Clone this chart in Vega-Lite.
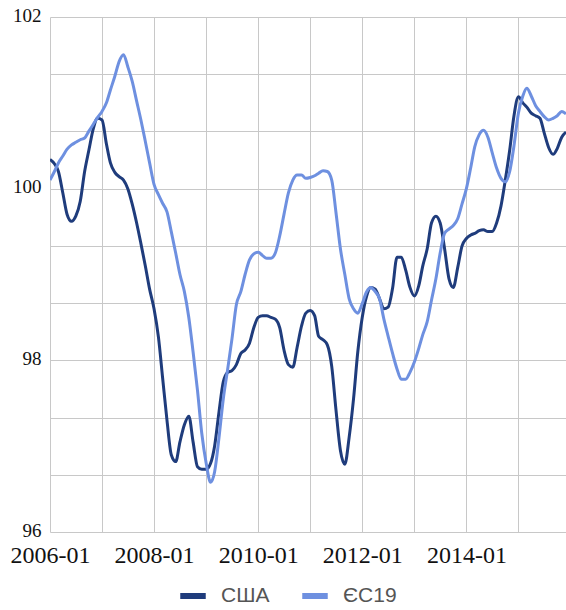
{
  "$schema": "https://vega.github.io/schema/vega-lite/v6.json",
  "autosize": "none",
  "width": 516,
  "height": 515,
  "padding": {"left": 50, "top": 17, "right": 0, "bottom": 78},
  "background": "white",
  "data": {"name": "src"},
  "datasets": {
    "src": [
      {"d":"2006-01-01","s":"США","v":100.34},{"d":"2006-02-01","s":"США","v":100.29},{"d":"2006-03-01","s":"США","v":100.2},{"d":"2006-04-01","s":"США","v":99.95},{"d":"2006-05-01","s":"США","v":99.7},{"d":"2006-06-01","s":"США","v":99.62},{"d":"2006-07-01","s":"США","v":99.68},{"d":"2006-08-01","s":"США","v":99.85},{"d":"2006-09-01","s":"США","v":100.2},{"d":"2006-10-01","s":"США","v":100.45},{"d":"2006-11-01","s":"США","v":100.7},{"d":"2006-12-01","s":"США","v":100.82},
      {"d":"2007-01-01","s":"США","v":100.8},{"d":"2007-02-01","s":"США","v":100.52},{"d":"2007-03-01","s":"США","v":100.3},{"d":"2007-04-01","s":"США","v":100.19},{"d":"2007-05-01","s":"США","v":100.14},{"d":"2007-06-01","s":"США","v":100.1},{"d":"2007-07-01","s":"США","v":100.0},{"d":"2007-08-01","s":"США","v":99.82},{"d":"2007-09-01","s":"США","v":99.6},{"d":"2007-10-01","s":"США","v":99.36},{"d":"2007-11-01","s":"США","v":99.1},{"d":"2007-12-01","s":"США","v":98.83},
      {"d":"2008-01-01","s":"США","v":98.6},{"d":"2008-02-01","s":"США","v":98.27},{"d":"2008-03-01","s":"США","v":97.8},{"d":"2008-04-01","s":"США","v":97.3},{"d":"2008-05-01","s":"США","v":96.9},{"d":"2008-06-01","s":"США","v":96.82},{"d":"2008-07-01","s":"США","v":97.05},{"d":"2008-08-01","s":"США","v":97.25},{"d":"2008-09-01","s":"США","v":97.35},{"d":"2008-10-01","s":"США","v":97.05},{"d":"2008-11-01","s":"США","v":96.76},{"d":"2008-12-01","s":"США","v":96.73},
      {"d":"2009-01-01","s":"США","v":96.73},{"d":"2009-02-01","s":"США","v":96.8},{"d":"2009-03-01","s":"США","v":97.0},{"d":"2009-04-01","s":"США","v":97.4},{"d":"2009-05-01","s":"США","v":97.75},{"d":"2009-06-01","s":"США","v":97.86},{"d":"2009-07-01","s":"США","v":97.88},{"d":"2009-08-01","s":"США","v":97.95},{"d":"2009-09-01","s":"США","v":98.08},{"d":"2009-10-01","s":"США","v":98.12},{"d":"2009-11-01","s":"США","v":98.2},{"d":"2009-12-01","s":"США","v":98.38},
      {"d":"2010-01-01","s":"США","v":98.5},{"d":"2010-02-01","s":"США","v":98.52},{"d":"2010-03-01","s":"США","v":98.52},{"d":"2010-04-01","s":"США","v":98.5},{"d":"2010-05-01","s":"США","v":98.48},{"d":"2010-06-01","s":"США","v":98.38},{"d":"2010-07-01","s":"США","v":98.12},{"d":"2010-08-01","s":"США","v":97.95},{"d":"2010-09-01","s":"США","v":97.92},{"d":"2010-10-01","s":"США","v":98.15},{"d":"2010-11-01","s":"США","v":98.4},{"d":"2010-12-01","s":"США","v":98.55},
      {"d":"2011-01-01","s":"США","v":98.58},{"d":"2011-02-01","s":"США","v":98.52},{"d":"2011-03-01","s":"США","v":98.28},{"d":"2011-04-01","s":"США","v":98.24},{"d":"2011-05-01","s":"США","v":98.18},{"d":"2011-06-01","s":"США","v":97.93},{"d":"2011-07-01","s":"США","v":97.42},{"d":"2011-08-01","s":"США","v":96.95},{"d":"2011-09-01","s":"США","v":96.79},{"d":"2011-10-01","s":"США","v":97.1},{"d":"2011-11-01","s":"США","v":97.55},{"d":"2011-12-01","s":"США","v":98.1},
      {"d":"2012-01-01","s":"США","v":98.5},{"d":"2012-02-01","s":"США","v":98.75},{"d":"2012-03-01","s":"США","v":98.85},{"d":"2012-04-01","s":"США","v":98.83},{"d":"2012-05-01","s":"США","v":98.72},{"d":"2012-06-01","s":"США","v":98.6},{"d":"2012-07-01","s":"США","v":98.62},{"d":"2012-08-01","s":"США","v":98.84},{"d":"2012-09-01","s":"США","v":99.2},{"d":"2012-10-01","s":"США","v":99.2},{"d":"2012-11-01","s":"США","v":99.05},{"d":"2012-12-01","s":"США","v":98.85},
      {"d":"2013-01-01","s":"США","v":98.75},{"d":"2013-02-01","s":"США","v":98.87},{"d":"2013-03-01","s":"США","v":99.1},{"d":"2013-04-01","s":"США","v":99.3},{"d":"2013-05-01","s":"США","v":99.6},{"d":"2013-06-01","s":"США","v":99.68},{"d":"2013-07-01","s":"США","v":99.6},{"d":"2013-08-01","s":"США","v":99.3},{"d":"2013-09-01","s":"США","v":98.95},{"d":"2013-10-01","s":"США","v":98.85},{"d":"2013-11-01","s":"США","v":99.08},{"d":"2013-12-01","s":"США","v":99.33},
      {"d":"2014-01-01","s":"США","v":99.42},{"d":"2014-02-01","s":"США","v":99.46},{"d":"2014-03-01","s":"США","v":99.48},{"d":"2014-04-01","s":"США","v":99.51},{"d":"2014-05-01","s":"США","v":99.52},{"d":"2014-06-01","s":"США","v":99.5},{"d":"2014-07-01","s":"США","v":99.5},{"d":"2014-08-01","s":"США","v":99.6},{"d":"2014-09-01","s":"США","v":99.8},{"d":"2014-10-01","s":"США","v":100.1},{"d":"2014-11-01","s":"США","v":100.45},{"d":"2014-12-01","s":"США","v":100.85},
      {"d":"2015-01-01","s":"США","v":101.07},{"d":"2015-02-01","s":"США","v":101.0},{"d":"2015-03-01","s":"США","v":100.95},{"d":"2015-04-01","s":"США","v":100.88},{"d":"2015-05-01","s":"США","v":100.85},{"d":"2015-06-01","s":"США","v":100.82},{"d":"2015-07-01","s":"США","v":100.65},{"d":"2015-08-01","s":"США","v":100.48},{"d":"2015-09-01","s":"США","v":100.4},{"d":"2015-10-01","s":"США","v":100.47},{"d":"2015-11-01","s":"США","v":100.6},{"d":"2015-12-01","s":"США","v":100.66},
      {"d":"2006-01-01","s":"ЄС19","v":100.1},{"d":"2006-02-01","s":"ЄС19","v":100.2},{"d":"2006-03-01","s":"ЄС19","v":100.3},{"d":"2006-04-01","s":"ЄС19","v":100.38},{"d":"2006-05-01","s":"ЄС19","v":100.46},{"d":"2006-06-01","s":"ЄС19","v":100.51},{"d":"2006-07-01","s":"ЄС19","v":100.54},{"d":"2006-08-01","s":"ЄС19","v":100.57},{"d":"2006-09-01","s":"ЄС19","v":100.59},{"d":"2006-10-01","s":"ЄС19","v":100.67},{"d":"2006-11-01","s":"ЄС19","v":100.75},{"d":"2006-12-01","s":"ЄС19","v":100.83},
      {"d":"2007-01-01","s":"ЄС19","v":100.9},{"d":"2007-02-01","s":"ЄС19","v":101.0},{"d":"2007-03-01","s":"ЄС19","v":101.15},{"d":"2007-04-01","s":"ЄС19","v":101.31},{"d":"2007-05-01","s":"ЄС19","v":101.48},{"d":"2007-06-01","s":"ЄС19","v":101.56},{"d":"2007-07-01","s":"ЄС19","v":101.42},{"d":"2007-08-01","s":"ЄС19","v":101.25},{"d":"2007-09-01","s":"ЄС19","v":101.02},{"d":"2007-10-01","s":"ЄС19","v":100.8},{"d":"2007-11-01","s":"ЄС19","v":100.55},{"d":"2007-12-01","s":"ЄС19","v":100.3},
      {"d":"2008-01-01","s":"ЄС19","v":100.05},{"d":"2008-02-01","s":"ЄС19","v":99.93},{"d":"2008-03-01","s":"ЄС19","v":99.83},{"d":"2008-04-01","s":"ЄС19","v":99.73},{"d":"2008-05-01","s":"ЄС19","v":99.5},{"d":"2008-06-01","s":"ЄС19","v":99.25},{"d":"2008-07-01","s":"ЄС19","v":99.0},{"d":"2008-08-01","s":"ЄС19","v":98.8},{"d":"2008-09-01","s":"ЄС19","v":98.5},{"d":"2008-10-01","s":"ЄС19","v":98.1},{"d":"2008-11-01","s":"ЄС19","v":97.65},{"d":"2008-12-01","s":"ЄС19","v":97.15},
      {"d":"2009-01-01","s":"ЄС19","v":96.8},{"d":"2009-02-01","s":"ЄС19","v":96.58},{"d":"2009-03-01","s":"ЄС19","v":96.7},{"d":"2009-04-01","s":"ЄС19","v":97.1},{"d":"2009-05-01","s":"ЄС19","v":97.55},{"d":"2009-06-01","s":"ЄС19","v":97.9},{"d":"2009-07-01","s":"ЄС19","v":98.25},{"d":"2009-08-01","s":"ЄС19","v":98.65},{"d":"2009-09-01","s":"ЄС19","v":98.8},{"d":"2009-10-01","s":"ЄС19","v":99.0},{"d":"2009-11-01","s":"ЄС19","v":99.17},{"d":"2009-12-01","s":"ЄС19","v":99.24},
      {"d":"2010-01-01","s":"ЄС19","v":99.26},{"d":"2010-02-01","s":"ЄС19","v":99.22},{"d":"2010-03-01","s":"ЄС19","v":99.19},{"d":"2010-04-01","s":"ЄС19","v":99.19},{"d":"2010-05-01","s":"ЄС19","v":99.25},{"d":"2010-06-01","s":"ЄС19","v":99.45},{"d":"2010-07-01","s":"ЄС19","v":99.7},{"d":"2010-08-01","s":"ЄС19","v":99.95},{"d":"2010-09-01","s":"ЄС19","v":100.1},{"d":"2010-10-01","s":"ЄС19","v":100.16},{"d":"2010-11-01","s":"ЄС19","v":100.16},{"d":"2010-12-01","s":"ЄС19","v":100.12},
      {"d":"2011-01-01","s":"ЄС19","v":100.13},{"d":"2011-02-01","s":"ЄС19","v":100.15},{"d":"2011-03-01","s":"ЄС19","v":100.18},{"d":"2011-04-01","s":"ЄС19","v":100.21},{"d":"2011-05-01","s":"ЄС19","v":100.2},{"d":"2011-06-01","s":"ЄС19","v":100.1},{"d":"2011-07-01","s":"ЄС19","v":99.72},{"d":"2011-08-01","s":"ЄС19","v":99.3},{"d":"2011-09-01","s":"ЄС19","v":99.0},{"d":"2011-10-01","s":"ЄС19","v":98.72},{"d":"2011-11-01","s":"ЄС19","v":98.6},{"d":"2011-12-01","s":"ЄС19","v":98.55},
      {"d":"2012-01-01","s":"ЄС19","v":98.66},{"d":"2012-02-01","s":"ЄС19","v":98.8},{"d":"2012-03-01","s":"ЄС19","v":98.85},{"d":"2012-04-01","s":"ЄС19","v":98.8},{"d":"2012-05-01","s":"ЄС19","v":98.72},{"d":"2012-06-01","s":"ЄС19","v":98.48},{"d":"2012-07-01","s":"ЄС19","v":98.28},{"d":"2012-08-01","s":"ЄС19","v":98.08},{"d":"2012-09-01","s":"ЄС19","v":97.9},{"d":"2012-10-01","s":"ЄС19","v":97.78},{"d":"2012-11-01","s":"ЄС19","v":97.78},{"d":"2012-12-01","s":"ЄС19","v":97.86},
      {"d":"2013-01-01","s":"ЄС19","v":97.98},{"d":"2013-02-01","s":"ЄС19","v":98.14},{"d":"2013-03-01","s":"ЄС19","v":98.3},{"d":"2013-04-01","s":"ЄС19","v":98.45},{"d":"2013-05-01","s":"ЄС19","v":98.7},{"d":"2013-06-01","s":"ЄС19","v":98.95},{"d":"2013-07-01","s":"ЄС19","v":99.25},{"d":"2013-08-01","s":"ЄС19","v":99.48},{"d":"2013-09-01","s":"ЄС19","v":99.53},{"d":"2013-10-01","s":"ЄС19","v":99.57},{"d":"2013-11-01","s":"ЄС19","v":99.65},{"d":"2013-12-01","s":"ЄС19","v":99.82},
      {"d":"2014-01-01","s":"ЄС19","v":100.0},{"d":"2014-02-01","s":"ЄС19","v":100.25},{"d":"2014-03-01","s":"ЄС19","v":100.49},{"d":"2014-04-01","s":"ЄС19","v":100.63},{"d":"2014-05-01","s":"ЄС19","v":100.68},{"d":"2014-06-01","s":"ЄС19","v":100.6},{"d":"2014-07-01","s":"ЄС19","v":100.42},{"d":"2014-08-01","s":"ЄС19","v":100.24},{"d":"2014-09-01","s":"ЄС19","v":100.12},{"d":"2014-10-01","s":"ЄС19","v":100.08},{"d":"2014-11-01","s":"ЄС19","v":100.2},{"d":"2014-12-01","s":"ЄС19","v":100.5},
      {"d":"2015-01-01","s":"ЄС19","v":100.88},{"d":"2015-02-01","s":"ЄС19","v":101.08},{"d":"2015-03-01","s":"ЄС19","v":101.17},{"d":"2015-04-01","s":"ЄС19","v":101.08},{"d":"2015-05-01","s":"ЄС19","v":100.97},{"d":"2015-06-01","s":"ЄС19","v":100.9},{"d":"2015-07-01","s":"ЄС19","v":100.84},{"d":"2015-08-01","s":"ЄС19","v":100.8},{"d":"2015-09-01","s":"ЄС19","v":100.82},{"d":"2015-10-01","s":"ЄС19","v":100.85},{"d":"2015-11-01","s":"ЄС19","v":100.9},{"d":"2015-12-01","s":"ЄС19","v":100.87}
    ]
  },
  "mark": {"type": "line", "interpolate": "monotone", "strokeWidth": 3, "clip": true},
  "encoding": {
    "x": {
      "field": "d",
      "type": "temporal",
      "title": null,
      "scale": {"type": "utc", "domain": [{"year": 2006, "month": 1, "date": 1, "utc": true}, {"year": 2015, "month": 12, "date": 1, "utc": true}], "nice": false},
      "axis": {
        "tickCount": {"interval": "year", "step": 1},
        "labelExpr": "utcyear(datum.value) % 2 == 0 ? utcFormat(datum.value, '%Y-%m') : ''",
        "labelFont": "Liberation Serif",
        "labelFontSize": 24,
        "labelColor": "#111",
        "labelPadding": 11,
        "labelFlush": false,
        "labelOverlap": false,
        "ticks": false,
        "domain": false,
        "grid": true,
        "gridColor": "#c8c8c8",
        "gridWidth": 1
      }
    },
    "y": {
      "field": "v",
      "type": "quantitative",
      "title": null,
      "scale": {"domain": [96, 102], "nice": false, "zero": false},
      "axis": {
        "values": [96, 96.6667, 97.3333, 98, 98.6667, 99.3333, 100, 100.6667, 101.3333, 102],
        "labelExpr": "datum.value % 2 == 0 ? datum.value : ''",
        "labelFont": "Liberation Serif",
        "labelFontSize": 19,
        "labelColor": "#111",
        "labelPadding": 9,
        "labelOffset": -2,
        "labelFlush": false,
        "labelOverlap": false,
        "ticks": false,
        "domain": false,
        "grid": true,
        "gridColor": "#c8c8c8",
        "gridWidth": 1
      }
    },
    "color": {
      "field": "s",
      "type": "nominal",
      "title": null,
      "scale": {"domain": ["США", "ЄС19"], "range": ["#1f3c7c", "#6e90e0"]},
      "legend": {
        "orient": "none",
        "legendX": 127,
        "legendY": 563,
        "direction": "horizontal",
        "symbolType": "stroke",
        "symbolStrokeWidth": 6,
        "symbolSize": 650,
        "labelFont": "Liberation Sans",
        "labelFontSize": 21,
        "labelColor": "#555",
        "labelOffset": 12,
        "columnPadding": 20
      }
    }
  },
  "config": {"view": {"stroke": null}}
}
